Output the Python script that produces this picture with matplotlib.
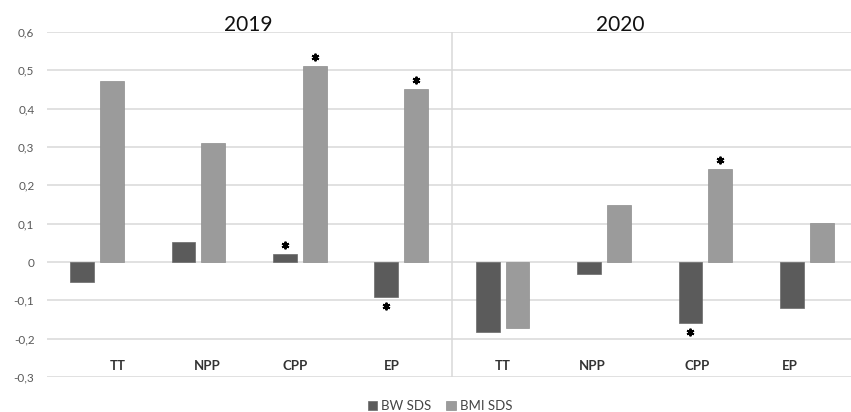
import matplotlib
matplotlib.use("Agg")
import matplotlib.pyplot as plt
import matplotlib.transforms as mtransforms
import numpy as np

plt.rcParams['font.family'] = ['Lato', 'DejaVu Sans']

# ---- data ----
years = ["2019", "2020"]
groups = ["TT", "NPP", "CPP", "EP"]
bw_sds = [-0.052, 0.052, 0.021, -0.092, -0.183, -0.030, -0.160, -0.121]
bmi_sds = [0.472, 0.311, 0.511, 0.451, -0.172, 0.150, 0.242, 0.102]
bw_sig = [False, False, True, True, False, False, True, False]
bmi_sig = [False, False, True, True, False, False, True, False]
yticks = [-0.3, -0.2, -0.1, 0, 0.1, 0.2, 0.3, 0.4, 0.5, 0.6]
ytick_labels = ["-0,3", "-0,2", "-0,1", "0", "0,1", "0,2", "0,3", "0,4", "0,5", "0,6"]
series_names = ["BW SDS", "BMI SDS"]

# ---- layout ----
label_shift = [0.20, 0.09, -0.05, -0.09, 0.0, -0.12, -0.08, -0.17]
year_x = [1.49, 5.16]
c_bw = "#5b5b5b"
c_bmi = "#9b9b9b"
grid_c = "#d9d9d9"
w = 0.235
off = 0.147

fig = plt.figure(figsize=(8.51, 4.12), dpi=100)
ax = fig.add_axes([47/851, 1-377/412, 1-47/851, (377-32)/412])

n = len(bw_sds)
x = np.arange(n)
cats = groups * len(years)

ax.set_ylim(-0.3, 0.6)
ax.set_xlim(-0.493, 7.436)
ax.set_yticks(yticks)
ax.set_yticklabels(ytick_labels, fontsize=8.5, color="#595959")
ax.tick_params(axis='y', length=0, pad=9)
ax.set_xticks([])
for s in ax.spines.values():
    s.set_visible(False)
ax.yaxis.grid(True, color=grid_c, lw=1.1)
ax.set_axisbelow(True)

b1 = ax.bar(x - off, bw_sds, width=w, color=c_bw, edgecolor="#6a6a6a", lw=0.5,
            label=series_names[0], zorder=3)
b2 = ax.bar(x + off, bmi_sds, width=w, color=c_bmi, edgecolor="#8e8e8e", lw=0.5,
            label=series_names[1], zorder=3)

# divider between years
ax.plot([3.5, 3.5], [-0.3, 0.6], color=grid_c, lw=1.1, zorder=1)


# significance asterisks
def star(xpos, val):
    dy = 9 if val >= 0 else -9
    tr = ax.transData + mtransforms.ScaledTranslation(0, dy / 100, fig.dpi_scale_trans)
    ax.plot([xpos], [val], marker=(6, 2, 0), ms=5.5, mew=1.4, color="black",
            transform=tr, zorder=4)


for i in range(n):
    if bw_sig[i]:
        star(x[i] - off, bw_sds[i])
    if bmi_sig[i]:
        star(x[i] + off, bmi_sds[i])

# category labels
for i in range(n):
    ax.text(x[i] + label_shift[i], -0.272, cats[i], ha='center', va='center',
            fontsize=9.5, fontweight='bold', color="#333333")

# year titles
for yx, yl in zip(year_x, years):
    ax.text(yx, 0.603, yl, ha='center', va='baseline', fontsize=15, color="#111111")

leg = fig.legend(handles=[b1, b2], labels=series_names, loc='center',
                 bbox_to_anchor=(440/851, 1-406/412), ncol=2, frameon=False,
                 fontsize=9.5, handlelength=0.75, handleheight=0.75, handletextpad=0.3,
                 columnspacing=1.1, labelcolor="#444444")

fig.savefig("out.png", dpi=100)
